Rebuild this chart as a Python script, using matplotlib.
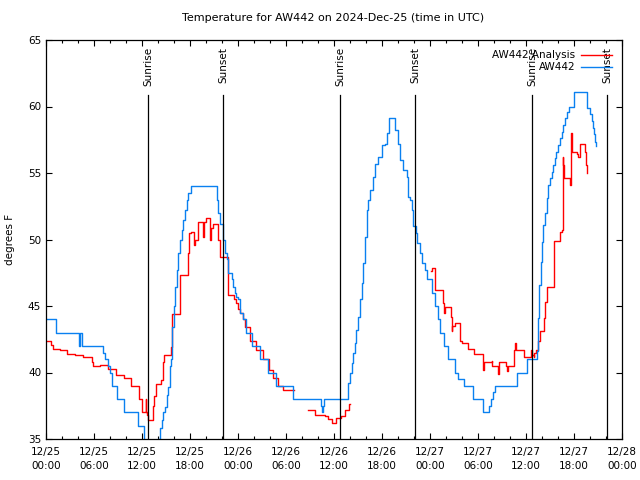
import numpy as np
import matplotlib
matplotlib.use("Agg")
import matplotlib.pyplot as plt
import matplotlib.dates as mdates

# hours since 2024-12-25 00:00 UTC, temperature in F
obs_hours = [0.0, 1.25, 4.1, 4.25, 4.55, 7.17, 7.4, 7.75, 8.0, 8.2, 8.84, 9.79,
             11.46, 12.3, 14.0, 14.25, 14.5, 14.63, 14.9, 15.1, 15.3, 15.5, 15.6,
             15.7, 15.8, 16.0, 16.1, 16.33, 16.5, 16.75, 16.96, 17.16, 17.37,
             17.59, 17.8, 18.1, 21.33, 21.54, 21.75, 22.08, 22.37, 22.58, 22.8,
             23.2, 23.4, 23.6, 23.8, 24.0, 24.25, 24.58, 25.0, 25.7, 26.75, 27.8,
             28.7, 30.9, 34.34, 34.45, 34.6, 34.75, 37.5, 37.8, 38.0, 38.2, 38.4,
             38.6, 38.8, 39.0, 39.2, 39.45, 39.65, 39.85, 40.1, 40.3, 40.5, 40.9,
             41.1, 41.5, 41.95, 42.35, 42.6, 42.9, 43.4, 43.6, 44.0, 44.25, 44.65,
             45.1, 45.3, 45.5, 45.7, 45.9, 46.25, 46.4, 46.7, 47.0, 47.4, 47.6,
             48.2, 48.6, 49.0, 49.25, 49.7, 50.2, 51.1, 51.5, 52.3, 53.4, 54.6,
             55.4, 55.6, 55.9, 56.1, 58.9, 60.1, 61.35, 61.54, 61.67, 61.83,
             61.96, 62.17, 62.4, 62.6, 62.8, 63.0, 63.2, 63.4, 63.6, 63.8, 64.04,
             64.25, 64.46, 64.67, 64.875, 65.08, 65.375, 66.0, 67.58, 68.0, 68.2,
             68.33, 68.5, 68.625, 68.75]
obs_temp = [44, 43, 42, 43, 42, 41.5, 41, 40.5, 40, 39, 38, 37,
            36, 34.5, 35, 35.8, 36.4, 37, 37.4, 38.3, 38.9, 40.5, 41,
            42.2, 43.4, 45, 46.4, 47.7, 49, 50, 50.7, 51.5, 52.2,
            53, 53.5, 54, 53, 52, 51.2, 50, 49, 48.5, 47.5,
            47, 46.4, 46, 45.7, 45.5, 44.5, 44, 43, 42, 41, 40,
            39, 38, 37.5, 37, 37.5, 38, 38, 39.2, 40, 40.7, 41.5,
            42.2, 43.2, 44.2, 45.5, 46.7, 48.2, 50.2, 52.2, 53, 53.7, 54.7,
            55.7, 56.2, 57.1, 57.2, 58, 59.1, 59.1, 58.2, 57.2, 56, 55.2,
            54.7, 53.2, 53, 52.2, 51, 50.5, 49.7, 49, 48.2, 47.7, 47,
            46, 45, 44, 43, 42, 41, 40, 39.5, 39, 38, 37,
            37.5, 38, 38.5, 39, 40, 41, 41.6, 44.1, 46.6, 48.3,
            49.8, 51.1, 52, 53.1, 54.1, 54.6, 55.1, 55.6, 56.1, 56.6, 57.1,
            57.6, 58.1, 58.6, 59.1, 59.6, 60, 61.1, 59.9, 59.4, 58.9,
            58.4, 57.9, 57.3, 57.0]

ana_hours = [0.0, 0.6, 0.9, 1.75, 2.6, 3.6, 4.6, 5.75, 5.85, 6.75, 7.7, 8.7,
             9.8, 10.6, 11.66, 12.0, 12.46, 12.55, 12.65, 12.8, 13.4, 13.55,
             13.8, 14.4, 14.6, 14.75, 15.6, 15.75, 16.75, 17.7, 17.9, 18.1,
             18.45, 18.6, 19.0, 19.6, 19.7, 20.05, 20.5, 20.6, 20.9, 21.5,
             21.75, 22.8, 23.5, 23.8, 24.0, 24.25, 24.6, 24.9, 25.5, 26.3,
             27.1, 27.9, 28.4, 29.0, 29.6, 30.95,
             32.8, 33.6, 34.9, 35.3, 35.7, 36.3, 36.9, 37.4, 37.9, 37.95,
             48.125, 48.2, 48.6, 49.6, 49.75, 49.9, 50.6, 50.7, 50.8, 51.1,
             51.7, 51.75, 51.96, 52.7, 53.5, 54.6, 54.7, 55.7, 55.8, 56.5,
             56.6, 56.75, 57.5, 57.6, 57.8, 58.5, 58.6, 58.75, 59.7, 60.6,
             60.8, 61.0, 61.05, 61.3, 61.5, 61.75, 62.2, 62.4, 62.6, 63.5,
             64.2, 64.5, 64.6, 64.67, 64.8, 65.5, 65.6, 65.7, 66.4, 66.5,
             66.7, 66.75, 67.25, 67.4, 67.5, 67.6, 67.65]
ana_temp = [42.4, 42.1, 41.8, 41.7, 41.4, 41.3, 41.2, 40.8, 40.5, 40.6, 40.3, 39.8,
            39.6, 39.0, 38.0, 37.05, 38.0, 37.0, 36.8, 36.4, 37.5, 38.2,
            39.1, 39.4, 40.8, 41.3, 41.9, 44.4, 47.3, 49.0, 50.5, 50.6,
            49.6, 50.0, 51.3, 50.2, 51.3, 51.6, 50.0, 50.9, 51.2, 50.0,
            48.7, 45.8, 45.5, 45.2, 44.8, 44.5, 44.0, 43.4, 42.4, 41.7,
            41.0, 40.2, 39.6, 39.0, 38.7, np.nan,
            37.2, 36.8, 36.7, 36.5, 36.2, 36.6, 36.7, 37.2, 37.6, np.nan,
            47.6, 47.85, 46.2, 45.2, 44.5, 44.9, 44.2, 43.1, 43.5, 43.7,
            43.0, 42.4, 42.2, 41.8, 41.4, 40.2, 40.8, 40.85, 40.5, 39.9,
            40.8, 40.8, 40.5, 40.1, 40.5, 41.7, 42.2, 41.7, 41.2, 41.7,
            41.3, 41.2, 41.5, 41.7, 42.4, 43.1, 44.1, 45.3, 46.4, 49.9,
            50.6, 50.7, 56.2, 55.6, 54.6, 54.1, 58.0, 56.6, 56.4, 56.2,
            56.7, 57.2, 57.2, 56.6, 55.6, 55.0, np.nan]

sun_hours = [12.78, 22.17, 36.77, 46.17, 60.8, 70.17]
sun_labels = ["Sunrise", "Sunset", "Sunrise", "Sunset", "Sunrise", "Sunset"]

start = np.datetime64("2024-12-25T00:00:00")


def to_time(hours):
    secs = np.round(np.array(hours) * 3600).astype("int64")
    return start + secs.astype("timedelta64[s]")


plt.rcParams["font.family"] = "DejaVu Sans"
plt.rcParams["font.size"] = 7.5

fig = plt.figure(figsize=(6.4, 4.8), dpi=100)
ax = fig.add_axes([46 / 640, 41 / 480, 576 / 640, 399 / 480])

ax.plot(to_time(ana_hours), ana_temp, color="#ff0000", lw=1.0,
        drawstyle="steps-post", label="AW442 Analysis")
ax.plot(to_time(obs_hours), obs_temp, color="#0a80f0", lw=1.0,
        drawstyle="steps-post", label="AW442")

for h, lab in zip(sun_hours, sun_labels):
    t = to_time([h])[0]
    ax.plot([t, t], [35, 60.9], color="black", lw=0.9)
    ax.text(t, 64.5, lab, rotation=90, ha="center", va="top")

ax.set_xlim(to_time([0])[0], to_time([72])[0])
ax.set_ylim(35, 65)
ax.set_yticks(np.arange(35, 66, 5))
ax.xaxis.set_major_locator(mdates.HourLocator(byhour=[0, 6, 12, 18]))
ax.xaxis.set_minor_locator(mdates.HourLocator(byhour=range(0, 24, 2)))
ax.xaxis.set_major_formatter(mdates.DateFormatter("%m/%d\n%H:%M"))
ax.tick_params(which="both", direction="in", top=True, right=True)
ax.tick_params(which="major", length=4.5, width=0.8)
ax.tick_params(axis="x", which="major", pad=6)
ax.tick_params(which="minor", length=2.5, width=0.8)
for s in ax.spines.values():
    s.set_linewidth(0.9)

ax.set_ylabel("degrees F", labelpad=9)
fig.suptitle("Temperature for AW442 on 2024-Dec-25 (time in UTC)",
             y=0.972, x=0.52, fontsize=8)

ax.legend(loc="upper right", frameon=False, markerfirst=False,
          handlelength=2.9, handletextpad=0.6, labelspacing=0.2,
          borderaxespad=0.8, borderpad=0.2)

fig.canvas.draw()
for lbl in ax.get_xticklabels():
    lbl.set_linespacing(1.5)

fig.savefig("out.png", dpi=100)
